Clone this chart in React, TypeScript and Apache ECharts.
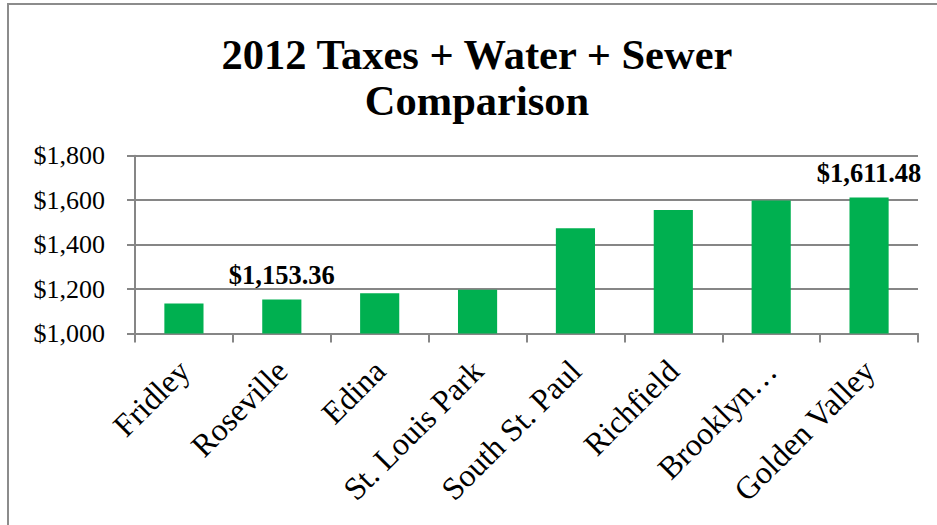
import React, { useEffect, useRef } from "react";
import * as echarts from "echarts";

const categories = ["Fridley", "Roseville", "Edina", "St. Louis Park", "South St. Paul", "Richfield", "Brooklyn…", "Golden Valley"];
const values = [1135, 1153.36, 1181, 1197, 1474, 1556, 1598, 1611.48];
const labeledIndices = [1, 7];
const titleLines = ["2012 Taxes + Water + Sewer", "Comparison"];
const yMin = 1000;
const yMax = 1800;
const yStep = 200;

const FONT = "'Liberation Serif', 'Times New Roman', serif";
const GRAY = "#868686";

export default function App() {
  const ref = useRef<HTMLDivElement>(null);
  useEffect(() => {
    if (!ref.current) return;
    const chart = echarts.init(ref.current, null, { renderer: "svg" });
    chart.setOption({
      animation: false,
      backgroundColor: "#ffffff",
      graphic: [
        {
          type: "rect",
          z: -10,
          shape: { x: 8, y: 4, width: 1000, height: 600 },
          style: { fill: "none", stroke: "#8c8c8c", lineWidth: 2 },
        },
        {
          type: "text",
          x: 477,
          y: 31,
          style: {
            text: titleLines.join("\n"),
            fontFamily: FONT,
            fontWeight: "bold",
            fontSize: 42.5,
            lineHeight: 46,
            fill: "#000",
            align: "center",
            verticalAlign: "top",
          },
        },
      ],
      grid: { left: 135, right: 19, top: 155.7, bottom: 191.5, containLabel: false },
      xAxis: {
        type: "category",
        data: categories,
        axisLine: { lineStyle: { color: GRAY, width: 2 } },
        axisTick: { show: true, length: 9, lineStyle: { color: GRAY, width: 2 } },
        axisLabel: {
          rotate: 45,
          interval: 0,
          margin: 32,
          fontFamily: FONT,
          fontSize: 32,
          color: "#000",
        },
      },
      yAxis: {
        type: "value",
        min: yMin,
        max: yMax,
        interval: yStep,
        axisLine: { show: true, lineStyle: { color: GRAY, width: 2 } },
        axisTick: { show: true, length: 8, lineStyle: { color: GRAY, width: 2 } },
        splitLine: { lineStyle: { color: GRAY, width: 2 } },
        axisLabel: {
          margin: 30,
          fontFamily: FONT,
          fontSize: 26,
          color: "#000",
          formatter: (v: number) => "$" + v.toLocaleString("en-US"),
        },
      },
      series: [
        {
          type: "bar",
          barWidth: "40%",
          itemStyle: { color: "#00B050" },
          data: values.map((v, i) => ({
            value: v,
            label: {
              show: labeledIndices.includes(i),
              position: "top",
              distance: 11,
              fontFamily: FONT,
              fontWeight: "bold",
              fontSize: 26.5,
              color: "#000",
              formatter: () =>
                "$" + v.toLocaleString("en-US", { minimumFractionDigits: 2, maximumFractionDigits: 2 }),
            },
          })),
        },
      ],
    });
    return () => chart.dispose();
  }, []);
  return <div ref={ref} style={{ position: "fixed", left: 0, top: 0, width: 937, height: 525 }} />;
}
